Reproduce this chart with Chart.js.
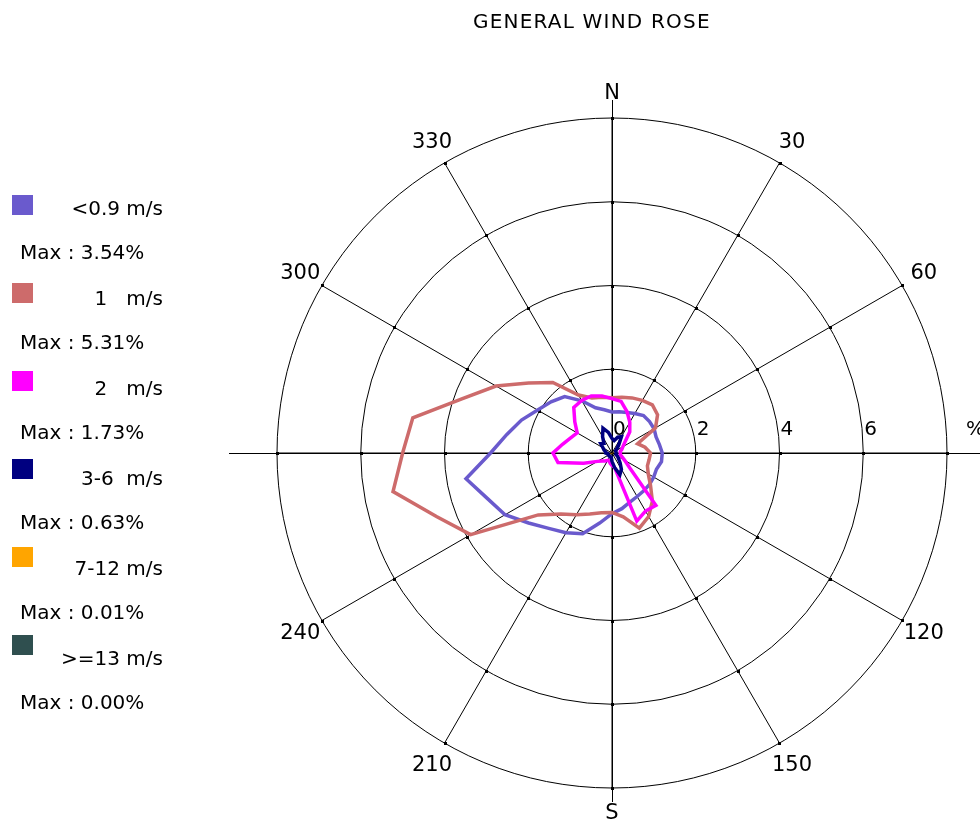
<!DOCTYPE html>
<html>
<head>
<meta charset="utf-8">
<title>General wind rose</title>
<script src="https://cdn.jsdelivr.net/npm/chart.js@4.4.0/dist/chart.umd.min.js"></script>
<style>
  body { margin: 0; background: #fff; font-family: "DejaVu Sans", sans-serif; color: #000; }
  #wrap { position: relative; width: 980px; height: 819px; overflow: hidden; }
  #rose { position: absolute; left: 0; top: 0; }
  #title { position: absolute; left: 473px; top: 11px; font-size: 20px; line-height: 20px; letter-spacing: 1.2px; white-space: pre; }
  .sq { position: absolute; left: 12px; width: 21px; height: 20px; }
  .lab { position: absolute; right: 817px; font-size: 20px; line-height: 20px; white-space: pre; }
  .max { position: absolute; left: 20px; font-size: 20px; line-height: 20px; white-space: pre; }
</style>
</head>
<body>
<div id="wrap">
  <canvas id="rose" width="980" height="819"></canvas>
  <div id="title">GENERAL WIND ROSE</div>
  <div id="legend"></div>
</div>
<script>
// direction bins, degrees clockwise from north
const directions = [0, 10, 20, 30, 40, 50, 60, 70, 80, 90, 100, 110, 120, 130, 140, 150, 160, 170,
  180, 190, 200, 210, 220, 230, 240, 250, 260, 270, 280, 290, 300, 310, 320, 330, 340, 350];

// frequency (%) per direction for each speed class
const calm = [0.98, 1.0, 1.03, 1.09, 1.17, 1.17, 1.16, 1.12, 1.15, 1.2, 1.2, 1.13, 1.15, 1.17, 1.18, 1.2, 1.25, 1.35,
  1.45, 1.7, 2.05, 2.2, 2.35, 2.6, 2.95, 3.17, 3.54, 2.9, 2.55, 2.3, 2.05, 1.9, 1.76, 1.44, 1.15, 1.05];
const speed1 = [1.32, 1.35, 1.4, 1.45, 1.5, 1.42, 1.2, 0.65, 0.8, 0.92, 0.9, 0.9, 1.0, 1.2, 1.5, 1.75, 1.91, 1.55,
  1.42, 1.45, 1.55, 1.7, 1.9, 2.3, 3.9, 4.45, 5.31, 5.0, 4.83, 3.8, 3.2, 2.6, 2.2, 1.6, 1.4, 1.35];
const speed2 = [1.3, 1.25, 1.05, 0.85, 0.66, 0.4, 0.3, 0.25, 0.2, 0.2, 0.2, 0.25, 0.35, 0.55, 1.63, 1.6, 1.73, 0.35,
  0.3, 0.25, 0.2, 0.2, 0.25, 0.3, 0.4, 0.72, 1.31, 1.41, 1.2, 1.05, 0.96, 1.16, 1.42, 1.45, 1.45, 1.38];
const speed3to6 = [0.35, 0.3, 0.4, 0.45, 0.25, 0.15, 0.1, 0.1, 0.1, 0.1, 0.1, 0.1, 0.15, 0.2, 0.3, 0.45, 0.55, 0.35,
  0.2, 0.1, 0.1, 0.1, 0.1, 0.1, 0.1, 0.1, 0.1, 0.15, 0.15, 0.2, 0.25, 0.35, 0.3, 0.45, 0.63, 0.5];
const speed7to12 = [0, 0, 0, 0, 0, 0, 0, 0, 0, 0, 0, 0, 0, 0, 0, 0, 0.01, 0,
  0, 0, 0, 0, 0, 0, 0, 0, 0, 0, 0, 0, 0, 0, 0, 0, 0, 0];
const speed13up = [0, 0, 0, 0, 0, 0, 0, 0, 0, 0, 0, 0, 0, 0, 0, 0, 0, 0,
  0, 0, 0, 0, 0, 0, 0, 0, 0, 0, 0, 0, 0, 0, 0, 0, 0, 0];

const speedLabels = ["<0.9 m/s", "1   m/s", "2   m/s", "3-6  m/s", "7-12 m/s", ">=13 m/s"];
const maxLabels = ["Max : 3.54%", "Max : 5.31%", "Max : 1.73%", "Max : 0.63%", "Max : 0.01%", "Max : 0.00%"];
const colors = ["#6a5acd", "#cd6b6b", "#ff00ff", "#000080", "#ffa500", "#2f4f4f"];
const series = [calm, speed1, speed2, speed3to6, speed7to12, speed13up];

const compassLabels = { 0: "N", 30: "30", 60: "60", 120: "120", 150: "150", 180: "S", 210: "210", 240: "240", 300: "300", 330: "330" };
const ringTicks = [0, 2, 4, 6];

// legend
const legend = document.getElementById("legend");
speedLabels.forEach((txt, i) => {
  const sq = document.createElement("div");
  sq.className = "sq";
  sq.style.top = (195 + 88 * i) + "px";
  sq.style.background = colors[i];
  legend.appendChild(sq);
  const lab = document.createElement("div");
  lab.className = "lab";
  lab.style.top = (198 + 90 * i) + "px";
  lab.textContent = txt;
  legend.appendChild(lab);
  const mx = document.createElement("div");
  mx.className = "max";
  mx.style.top = (242 + 90 * i) + "px";
  mx.textContent = maxLabels[i];
  legend.appendChild(mx);
});

const roseDecor = {
  id: "roseDecor",
  beforeDatasetsDraw(chart) {
    const s = chart.scales.r, ctx = chart.ctx, R = s.drawingArea;
    const cx = s.xCenter, cy = s.yCenter;
    ctx.save();
    ctx.strokeStyle = "#000";
    ctx.lineWidth = 1;
    ctx.beginPath();
    ctx.moveTo(cx - R - 48, cy + 0.5);
    ctx.lineTo(chart.width, cy + 0.5);
    ctx.moveTo(cx + 0.5, cy - R - 18);
    ctx.lineTo(cx + 0.5, cy + R + 14);
    ctx.stroke();
    // small marks where rings cross the spokes
    ctx.fillStyle = "#000";
    directions.forEach((d, i) => {
      if (d % 30 !== 0) return;
      [2, 4, 6, 8].forEach(v => {
        const p = s.getPointPosition(i, s.getDistanceFromCenterForValue(v));
        ctx.fillRect(Math.round(p.x) - 1, Math.round(p.y) - 1, 3, 3);
      });
    });
    // compass labels
    ctx.font = "21px 'DejaVu Sans'";
    ctx.textAlign = "center";
    ctx.textBaseline = "middle";
    directions.forEach((d, i) => {
      const txt = compassLabels[d];
      if (!txt) return;
      const p = s.getPointPosition(i, R + 25);
      ctx.fillText(txt, p.x, p.y + 1);
    });
    ctx.restore();
  },
  afterDatasetsDraw(chart) {
    const s = chart.scales.r, ctx = chart.ctx, R = s.drawingArea;
    ctx.save();
    ctx.fillStyle = "#000";
    ctx.font = "20px 'DejaVu Sans'";
    ctx.textAlign = "left";
    ctx.textBaseline = "alphabetic";
    ringTicks.forEach(v => {
      ctx.fillText(String(v), s.xCenter + s.getDistanceFromCenterForValue(v) + 1, s.yCenter - 18);
    });
    ctx.fillText("%", s.xCenter + R + 19, s.yCenter - 18);
    ctx.restore();
  }
};

new Chart(document.getElementById("rose"), {
  type: "radar",
  data: {
    labels: directions,
    datasets: series.map((vals, i) => ({
      label: speedLabels[i],
      data: vals,
      borderColor: colors[i],
      backgroundColor: colors[i],
      order: 5 - i
    }))
  },
  options: {
    responsive: false,
    animation: false,
    layout: { padding: { left: 277, right: 33, top: 118, bottom: 31 } },
    plugins: { legend: { display: false }, tooltip: { enabled: false } },
    elements: {
      line: { borderWidth: 3.5, tension: 0, fill: false },
      point: { radius: 0, hoverRadius: 0 }
    },
    scales: {
      r: {
        min: 0,
        max: 8,
        ticks: { display: false, stepSize: 2 },
        grid: { circular: true, color: "#000", lineWidth: 1 },
        angleLines: { color: "#000", lineWidth: ctx => (ctx.index % 3 === 0 ? 1 : 0) },
        pointLabels: { display: false }
      }
    }
  },
  plugins: [roseDecor]
});
</script>
</body>
</html>
